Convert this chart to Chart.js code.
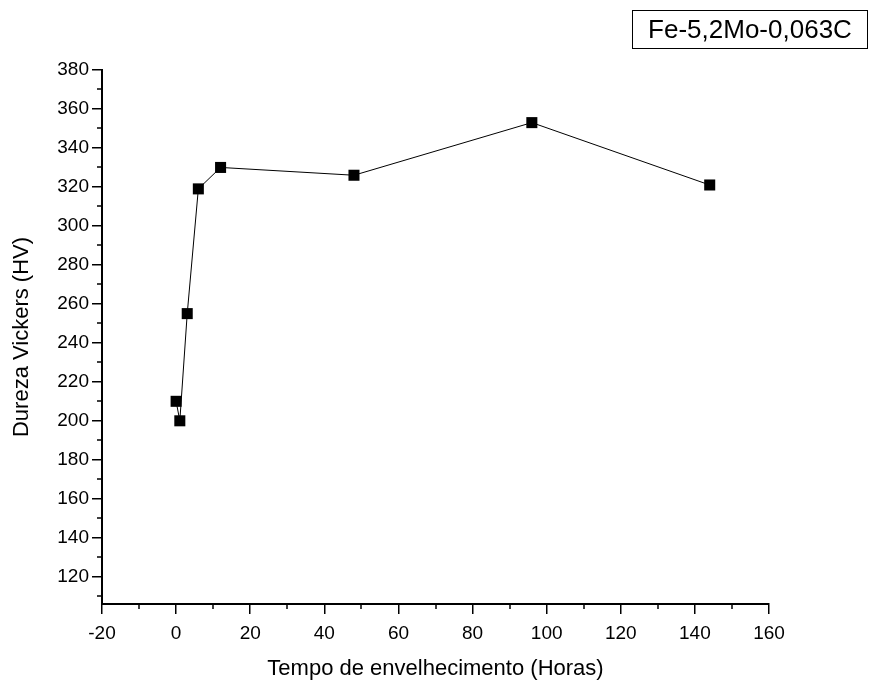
<!DOCTYPE html>
<html><head><meta charset="utf-8">
<script src="https://cdn.jsdelivr.net/npm/chart.js@4"></script>
<style>
html,body{margin:0;padding:0;background:#fff;}
#wrap{position:relative;width:870px;height:685px;}
#box{position:absolute;left:632px;top:10px;width:236px;height:39px;border:1px solid #000;box-sizing:border-box;font:26px "Liberation Sans",Arial,sans-serif;color:#000;display:flex;align-items:center;justify-content:center;}
</style></head><body>
<div id="wrap"><canvas id="c" width="870" height="685"></canvas><div id="box">Fe-5,2Mo-0,063C</div></div>
<script>
const hours = [0, 1, 3, 6, 12, 48, 96, 144];
const hardness = [210, 200, 255, 319, 330, 326, 353, 321];
const xTicks = [-20, 0, 20, 40, 60, 80, 100, 120, 140, 160];
const xMinor = [-10, 10, 30, 50, 70, 90, 110, 130, 150];
const yTicks = [120, 140, 160, 180, 200, 220, 240, 260, 280, 300, 320, 340, 360, 380];
const yMinor = [110, 130, 150, 170, 190, 210, 230, 250, 270, 290, 310, 330, 350, 370];
const FONT = '"Liberation Sans", Arial, sans-serif';

const minorTicks = {
  id: 'minorTicks',
  afterDraw(chart) {
    const ctx = chart.ctx, xs = chart.scales.x, ys = chart.scales.y;
    const a = chart.chartArea;
    ctx.save();
    ctx.strokeStyle = '#000';
    ctx.lineWidth = 1.5;
    ctx.beginPath();
    xMinor.forEach(v => { const p = Math.round(xs.getPixelForValue(v)); ctx.moveTo(p, a.bottom); ctx.lineTo(p, a.bottom + 5); });
    yMinor.forEach(v => { const p = Math.round(ys.getPixelForValue(v)); ctx.moveTo(a.left, p); ctx.lineTo(a.left - 5, p); });
    ctx.stroke();
    ctx.restore();
  }
};

new Chart(document.getElementById('c'), {
  type: 'line',
  data: {
    datasets: [{
      data: hours.map((h, i) => ({x: h, y: hardness[i]})),
      borderColor: '#000',
      borderWidth: 1,
      tension: 0,
      fill: false,
      pointStyle: 'rect',
      pointRadius: 7.8,
      pointBackgroundColor: '#000',
      pointBorderColor: '#000',
      pointBorderWidth: 0,
      clip: false
    }]
  },
  options: {
    responsive: false,
    animation: false,
    layout: {padding: {top: 70, right: 101, left: 0, bottom: 0}},
    plugins: {legend: {display: false}, tooltip: {enabled: false}},
    scales: {
      x: {
        type: 'linear', min: -20, max: 160,
        afterBuildTicks: s => { s.ticks = xTicks.map(v => ({value: v})); },
        afterFit: s => { s.height = 81; },
        grid: {drawOnChartArea: false, drawTicks: true, tickLength: 10, color: '#000', lineWidth: 1.5},
        border: {display: true, color: '#000', width: 2},
        ticks: {color: '#000', font: {family: FONT, size: 19}, padding: 8, maxRotation: 0, autoSkip: false},
        title: {display: true, text: 'Tempo de envelhecimento (Horas)', color: '#000', font: {family: FONT, size: 22}, padding: {top: 0, bottom: 3}}
      },
      y: {
        type: 'linear', min: 106, max: 380,
        afterBuildTicks: s => { s.ticks = yTicks.map(v => ({value: v})); },
        afterFit: s => { s.width = 102; },
        grid: {drawOnChartArea: false, drawTicks: true, tickLength: 10, color: '#000', lineWidth: 1.5},
        border: {display: true, color: '#000', width: 2},
        ticks: {color: '#000', font: {family: FONT, size: 19}, padding: 3, autoSkip: false},
        title: {display: true, text: 'Dureza Vickers (HV)', color: '#000', font: {family: FONT, size: 22}, padding: {top: 9, bottom: 0}}
      }
    }
  },
  plugins: [minorTicks]
});
</script>
</body></html>
